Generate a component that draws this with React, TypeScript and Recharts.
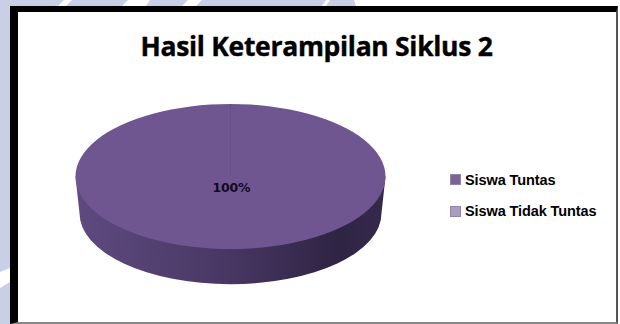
import { Legend, Pie, PieChart, Sector } from 'recharts';

// Hasil Keterampilan Siklus 2: 3D-look pie, one slice holds everything
const categories = ['Siswa Tuntas', 'Siswa Tidak Tuntas'];
const percentages = [100, 0];
const sliceColors = ['#6f5691', '#a99dc0'];
const legendColors = ['#7a6497', '#a99dc0'];

const data = categories.map((name, i) => ({
  name,
  value: percentages[i],
  fill: sliceColors[i],
}));

const TILT = 0.468; // top face height / width
const DEPTH = 37; // how far the bottom rim sits below the top face
const BOTTOM_SCALE = 0.974; // the bottom rim is a little narrower

// Side wall + squashed top face for one slice
function TiltedSlice(props: any) {
  const { cx, cy, outerRadius, startAngle, endAngle, fill } = props;
  const rx = outerRadius;
  const ry = rx * TILT;
  const bx = rx * BOTTOM_SCALE;
  const by = bx * TILT;
  if (startAngle === endAngle) return null;
  return (
    <g>
      <path
        d={`M${cx - rx},${cy} L${cx - bx},${cy + DEPTH} A${bx},${by} 0 0 0 ${cx + bx},${cy + DEPTH} L${cx + rx},${cy} Z`}
        fill="url(#wallShade)"
      />
      <g transform={`translate(${cx} ${cy}) scale(1 ${TILT}) translate(${-cx} ${-cy})`}>
        <Sector
          cx={cx}
          cy={cy}
          innerRadius={0}
          outerRadius={outerRadius}
          startAngle={startAngle}
          endAngle={endAngle}
          fill={fill}
          stroke="none"
        />
      </g>
      {/* seam where the full circle starts */}
      <line x1={cx} y1={cy} x2={cx} y2={cy - ry} stroke="#674f88" strokeWidth={1} />
    </g>
  );
}

function SliceLabel({ cx, cy, value }: any) {
  if (!value) return null;
  return (
    <text
      x={cx + 1}
      y={cy + 15}
      textAnchor="middle"
      fontFamily="'DejaVu Sans', sans-serif"
      fontWeight={700}
      fontSize={12.5}
      letterSpacing={-0.2}
      fill="#14091f"
    >
      {value}%
    </text>
  );
}

function LegendList({ payload }: any) {
  return (
    <div>
      {(payload ?? []).map((item: any, i: number) => (
        <div key={item.value} style={{ display: 'flex', alignItems: 'center', height: 31.5 }}>
          <span
            style={{
              width: 11,
              height: 11,
              marginRight: 4,
              background: legendColors[i],
              border: '1px solid #9285a9',
              boxSizing: 'border-box',
            }}
          />
          <span
            style={{
              fontFamily: "'Liberation Sans', Arial, sans-serif",
              fontWeight: 700,
              fontSize: 14.5,
              letterSpacing: -0.1,
              color: '#000',
              whiteSpace: 'nowrap',
            }}
          >
            {item.value}
          </span>
        </div>
      ))}
    </div>
  );
}

export default function App() {
  return (
    <div
      style={{
        position: 'absolute',
        left: 0,
        top: 0,
        width: 620,
        height: 324,
        overflow: 'hidden',
        background: '#fff',
      }}
    >
      {/* page backdrop stripes around the frame */}
      <svg width={620} height={324} style={{ position: 'absolute', left: 0, top: 0 }}>
        <polygon points="0,0 64,0 58,6 10,6 10,268 0,272" fill="#c9cfe6" />
        <polygon points="0,288 10,282 10,324 0,324" fill="#c9cfe6" />
        <polygon points="72,0 128,0 122,6 66,6" fill="#c9cfe6" />
        <polygon points="150,0 188,0 182,6 146,6" fill="#c9cfe6" />
        <polygon points="202,0 326,0 322,6 196,6" fill="#c9cfe6" />
        <polygon points="330,0 354,0 356,6 326,6" fill="#c9cfe6" />
      </svg>
      <div
        style={{
          position: 'absolute',
          left: 10,
          top: 6,
          width: 608,
          height: 318,
          boxSizing: 'border-box',
          background: '#fff',
          borderLeft: '8px solid #000',
          borderTop: '6px solid #000',
          borderRight: '2px solid #555',
          borderBottom: '2px solid #888',
        }}
      />
      <div style={{ position: 'absolute', left: 0, top: 0 }}>
        <PieChart width={620} height={324} margin={{ top: 0, right: 0, bottom: 0, left: 0 }}>
          <defs>
            <linearGradient id="wallShade" x1="0" y1="0" x2="1" y2="0">
              <stop offset="0" stopColor="#5f4a80" />
              <stop offset="0.45" stopColor="#4a3966" />
              <stop offset="0.85" stopColor="#2f2444" />
              <stop offset="1" stopColor="#352a4c" />
            </linearGradient>
          </defs>
          <text
            x={316.5}
            y={56}
            textAnchor="middle"
            fontFamily="'Open Sans', sans-serif"
            fontWeight={700}
            fontSize={26.5}
            letterSpacing={-0.3}
            stroke="#000"
            strokeWidth={0.4}
            fill="#000"
          >
            Hasil Keterampilan Siklus 2
          </text>
          <Pie
            data={data}
            dataKey="value"
            nameKey="name"
            cx={230.5}
            cy={176.5}
            outerRadius={155}
            startAngle={90}
            endAngle={-270}
            stroke="none"
            isAnimationActive={false}
            labelLine={false}
            label={<SliceLabel />}
            shape={<TiltedSlice />}
          />
          <Legend
            layout="vertical"
            align="right"
            verticalAlign="top"
            itemSorter={null}
            content={<LegendList />}
            wrapperStyle={{ left: 450, top: 164, width: 165 }}
          />
        </PieChart>
      </div>
    </div>
  );
}
